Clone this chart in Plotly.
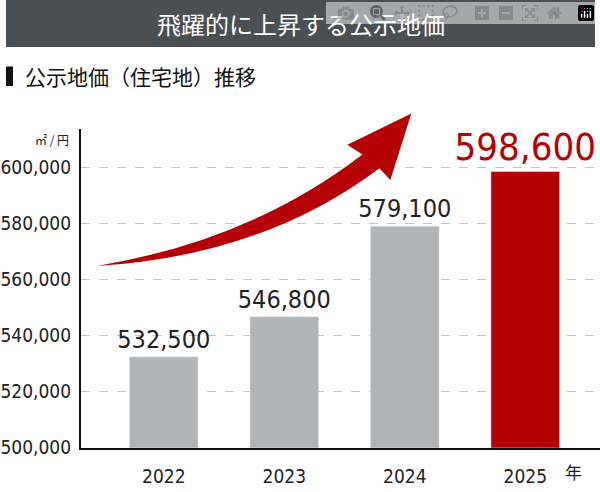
import plotly.graph_objects as go

years = ["2022", "2023", "2024", "2025"]
prices = [532500, 546800, 579100, 598600]
price_labels = ["532,500", "546,800", "579,100", "598,600"]
tick_vals = [500000, 520000, 540000, 560000, 580000, 600000]
tick_text = ["500,000", "520,000", "540,000", "560,000", "580,000", "600,000"]

W, H = 600, 492
GRAY = "#b2b3b5"
RED = "#b50005"
NARROW = "DejaVu Sans Condensed, sans-serif"


def px(x):
    return x / W


def py(y):
    return 1 - y / H


def pt(x, y):
    return f"{px(x):.4f},{py(y):.4f}"


fig = go.Figure()
fig.add_trace(go.Bar(
    x=years, y=prices,
    marker_color=[GRAY, GRAY, GRAY, RED],
    width=0.57,
    text=price_labels, textposition="outside", cliponaxis=False,
    constraintext="none",
    textfont=dict(family=NARROW, size=[25, 25, 25, 38], color=["#222", "#222", "#222", RED]),
    hoverinfo="skip",
))

arrow = ("M " + pt(96, 272) + " Q " + pt(250, 246) + " " + pt(362, 158)
         + " L " + pt(347, 148) + " L " + pt(411, 116) + " L " + pt(390, 184)
         + " L " + pt(379, 172) + " Q " + pt(262, 262) + " " + pt(96, 272) + " Z")

fig.update_layout(
    width=W, height=H, margin=dict(l=0, r=0, t=0, b=0),
    plot_bgcolor="white", paper_bgcolor="white", showlegend=False,
    xaxis=dict(domain=[px(80), 1], range=[-0.688, 3.62], showgrid=False,
               showline=True, linecolor="#111", linewidth=2, ticks="",
               ticklabelstandoff=10,
               tickfont=dict(family=NARROW, size=19, color="#222")),
    yaxis=dict(domain=[py(458), py(132)], range=[500000, 613800],
               tickvals=tick_vals, ticktext=tick_text, showgrid=True,
               gridcolor="#c4c4c4", griddash="dash", gridwidth=1,
               showline=True, linecolor="#111", linewidth=2, ticks="",
               ticklabelstandoff=4,
               tickfont=dict(family=NARROW, size=19, color="#222"), zeroline=False),
    shapes=[
        dict(type="rect", xref="paper", yref="paper", x0=px(5), x1=px(595),
             y0=py(48), y1=py(0), fillcolor="#4b4e52", line_width=0),
        dict(type="rect", xref="paper", yref="paper", x0=px(5), x1=px(12),
             y0=py(88), y1=py(68), fillcolor="#111", line_width=0),
        dict(type="path", xref="paper", yref="paper", path=arrow,
             fillcolor=RED, line_width=0),
    ],
    annotations=[
        dict(text="飛躍的に上昇する公示地価", xref="paper", yref="paper", x=0.5, y=py(24),
             yanchor="middle", showarrow=False,
             font=dict(family="Noto Sans CJK JP", size=24, color="white")),
        dict(text="公示地価（住宅地）推移", xref="paper", yref="paper", x=px(22), y=py(78),
             xanchor="left", yanchor="middle", showarrow=False,
             font=dict(family="Noto Sans CJK JP", size=21, color="#111")),
        dict(text="㎡ / 円", xref="paper", yref="paper", x=px(70), y=py(143),
             xanchor="right", yanchor="middle", showarrow=False,
             font=dict(family="Noto Sans CJK JP", size=12, color="#222")),
        dict(text="年", xref="paper", yref="paper", x=px(584), y=py(482),
             yanchor="middle", showarrow=False,
             font=dict(family="Noto Sans CJK JP", size=17, color="#222")),
    ],
)

fig.write_html("out.html", post_script="document.body.style.margin='0';")
